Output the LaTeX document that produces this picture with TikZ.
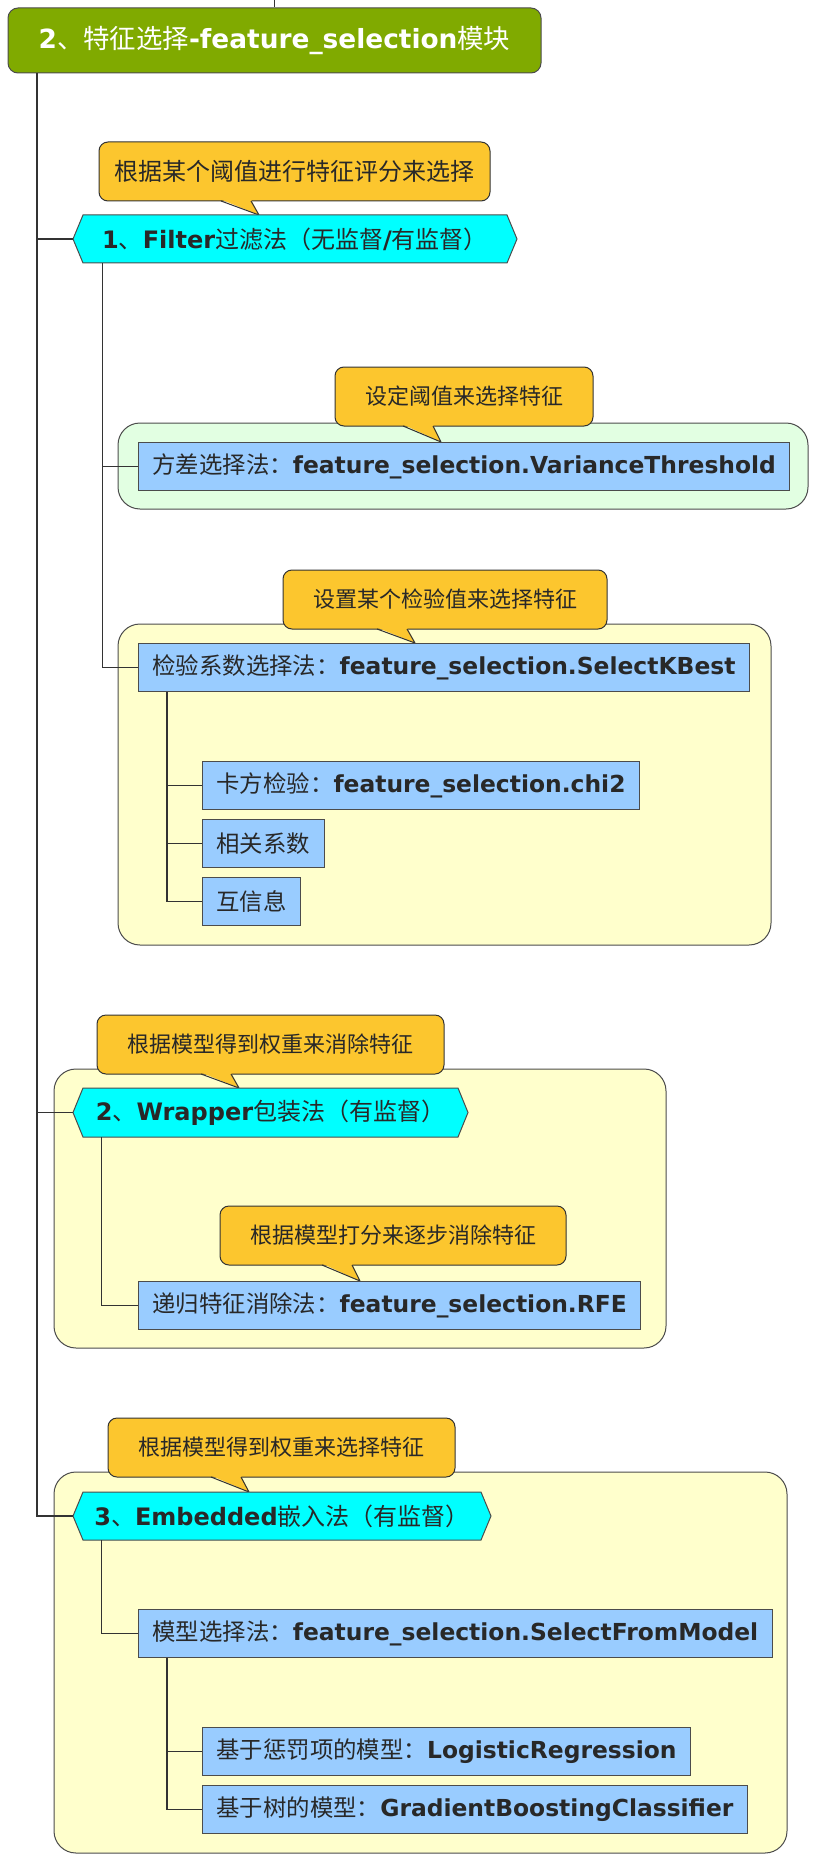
\documentclass[tikz,border=0pt]{standalone}
\usepackage{fontspec}
\setmainfont{DejaVu Sans}
\newfontfamily\cjk{Noto Sans CJK SC}
\newcommand{\zh}[1]{{\cjk\mdseries #1}}

\definecolor{Olive}{RGB}{128,170,0}
\definecolor{Gold}{RGB}{252,198,46}
\definecolor{Sky}{RGB}{153,204,255}
\definecolor{Cream}{RGB}{255,255,204}
\definecolor{Mint}{RGB}{226,255,226}
\definecolor{Aqua}{RGB}{0,255,255}
\definecolor{Ink}{RGB}{40,40,40}

\tikzset{
  link/.style={draw=black!80, line width=1.3pt},
  leaf/.style={draw=black!70, fill=Sky, line width=1pt, anchor=north west, minimum height=48pt,
    inner xsep=14pt, text=Ink, font=\fontsize{23.4}{28}\selectfont\bfseries},
  hexlabel/.style={inner sep=0pt, text=Ink, font=\fontsize{24}{29}\selectfont\bfseries},
  notelabel/.style={text=Ink, font=\fontsize{22}{26}\selectfont},
  headbox/.style={draw=black!70, fill=Olive, line width=1pt, rounded corners=10pt, text=white,
    font=\fontsize{26.4}{31}\selectfont\bfseries}
}

\newcommand{\drawgroup}[5]{% Parameters: colour, left, top, right, bottom
  \draw[draw=black!70, line width=1pt, fill=#1, rounded corners=22pt] (#2,#3) rectangle (#4,#5);
}
\newcommand{\drawcallout}[8]{% Parameters: name, left, top, right, bottom, tip x, tip y, label
  \draw[draw=black!80, fill=Gold, line width=1pt, rounded corners=9pt] (#2,#3) rectangle (#4,#5);
  \fill[Gold] (#6-38,#5-1.5) -- (#6,#7) -- (#6-8,#5-1.5) -- cycle;
  \draw[draw=black!80, line width=1pt, line join=round] (#6-38,#5) -- (#6,#7) -- (#6-8,#5);
  \node[notelabel] (#1) at ({(#2+#4)/2},{(#3+#5)/2}) {#8};
}
\newcommand{\drawhex}[6]{% Parameters: name, left, top, right, bottom, label
  \draw[draw=black!70, fill=Aqua, line width=1pt] (#2,{(#3+#5)/2}) -- (#2+10,#3) -- (#4-10,#3)
  -- (#4,{(#3+#5)/2}) -- (#4-10,#5) -- (#2+10,#5) -- cycle;
  \node[hexlabel, minimum width={#4-#2}, minimum height={#5-#3}] (#1) at ({(#2+#4)/2},{(#3+#5)/2}) {#6};
}

\begin{document}
\begin{tikzpicture}[x=1pt,y=-1pt]
  \useasboundingbox (0,0) rectangle (817,1870);
  \drawgroup{Mint}{118}{423}{808}{509}
  \drawgroup{Cream}{118}{624}{771}{945}
  \drawgroup{Cream}{54}{1069}{666}{1348}
  \drawgroup{Cream}{54}{1472}{787}{1853}

  \node[headbox, minimum width=533pt, minimum height=65pt] (title) at (274.5,40.5)
    {2\zh{、特征选择}-feature\_selection\zh{模块}};

  \drawcallout{note1}{99}{142}{490}{201}{259}{215}{\fontsize{24}{29}\selectfont\zh{根据某个阈值进行特征评分来选择}}
  \drawhex{filter}{73}{215}{517}{263}{1\zh{、}Filter\zh{过滤法（无监督}/\zh{有监督）}}
  \drawcallout{note2}{335}{367}{593}{426}{441}{442}{\zh{设定阈值来选择特征}}
  \node[leaf] (vt) at (138,442) {\zh{方差选择法：}feature\_selection.VarianceThreshold};
  \drawcallout{note3}{283}{570}{607}{629}{415}{643}{\zh{设置某个检验值来选择特征}}
  \node[leaf] (skb) at (138,643) {\zh{检验系数选择法：}feature\_selection.SelectKBest};
  \node[leaf] (chi) at (202,761) {\zh{卡方检验：}feature\_selection.chi2};
  \node[leaf] (corr) at (202,819) {\zh{相关系数}};
  \node[leaf] (mi) at (202,877) {\zh{互信息}};

  \drawcallout{note4}{97}{1015}{444}{1074}{239}{1088}{\zh{根据模型得到权重来消除特征}}
  \drawhex{wrapper}{73}{1088}{468}{1137}{2\zh{、}Wrapper\zh{包装法（有监督）}}
  \drawcallout{note5}{220}{1206}{566}{1265}{360}{1281}{\zh{根据模型打分来逐步消除特征}}
  \node[leaf] (rfe) at (138,1281) {\zh{递归特征消除法：}feature\_selection.RFE};

  \drawcallout{note6}{108}{1418}{455}{1477}{249}{1492}{\zh{根据模型得到权重来选择特征}}
  \drawhex{embedded}{73}{1492}{491}{1540}{3\zh{、}Embedded\zh{嵌入法（有监督）}}
  \node[leaf] (sfm) at (138,1609) {\zh{模型选择法：}feature\_selection.SelectFromModel};
  \node[leaf] (lr) at (202,1727) {\zh{基于惩罚项的模型：}LogisticRegression};
  \node[leaf] (gbc) at (202,1785) {\zh{基于树的模型：}GradientBoostingClassifier};

  \draw[link] (title.north) -- ++(0,-8);
  \draw[link] ([xshift=29.5pt]title.south west) |- (filter.west);
  \draw[link] ([xshift=29.5pt]title.south west) |- (wrapper.west);
  \draw[link] ([xshift=29.5pt]title.south west) |- (embedded.west);
  \draw[link] ([xshift=29.5pt]filter.south west) |- (vt.west);
  \draw[link] ([xshift=29.5pt]filter.south west) |- (skb.west);
  \draw[link] ([xshift=29pt]skb.south west) |- (chi.west);
  \draw[link] ([xshift=29pt]skb.south west) |- (corr.west);
  \draw[link] ([xshift=29pt]skb.south west) |- (mi.west);
  \draw[link] ([xshift=29pt]wrapper.south west) |- (rfe.west);
  \draw[link] ([xshift=29pt]embedded.south west) |- (sfm.west);
  \draw[link] ([xshift=29pt]sfm.south west) |- (lr.west);
  \draw[link] ([xshift=29pt]sfm.south west) |- (gbc.west);
\end{tikzpicture}
\end{document}
